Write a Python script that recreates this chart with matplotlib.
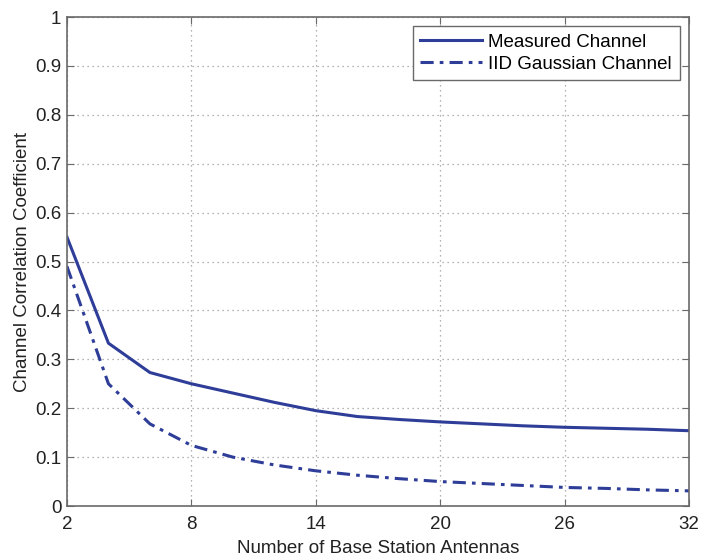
import matplotlib.pyplot as plt

plt.rcParams['font.family'] = ['Liberation Sans', 'DejaVu Sans']

# Number of base station antennas (even counts from 2 to 32)
antennas = [2, 4, 6, 8, 10, 12, 14, 16, 18, 20, 22, 24, 26, 28, 30, 32]

# Correlation coefficient for measured and IID Gaussian channels
measured = [0.55, 0.333, 0.273, 0.250, 0.231, 0.212, 0.195, 0.183,
            0.177, 0.172, 0.168, 0.164, 0.161, 0.159, 0.157, 0.154]
iid_gaussian = [0.49, 0.25, 0.168, 0.124, 0.100, 0.084, 0.072, 0.063,
                0.056, 0.050, 0.046, 0.042, 0.038, 0.036, 0.033, 0.031]

xticks = [2, 8, 14, 20, 26, 32]
yticks = [0, 0.1, 0.2, 0.3, 0.4, 0.5, 0.6, 0.7, 0.8, 0.9, 1]
ytick_labels = ['0', '0.1', '0.2', '0.3', '0.4', '0.5', '0.6', '0.7', '0.8', '0.9', '1']

line_color = '#2E3D98'
axis_color = '#6a6a6a'
text_color = '#222222'

fig = plt.figure(figsize=(7.02, 5.56), dpi=100)
ax = fig.add_axes([0.0954, 0.0899, 0.886, 0.8795])

ax.plot(antennas, measured, color=line_color, linewidth=2.2, label='Measured Channel')
ax.plot(antennas, iid_gaussian, color=line_color, linewidth=2.2,
        linestyle=(0, (4.3, 2.0, 1.2, 2.0)), label='IID Gaussian Channel')

ax.set_xlim(2, 32)
ax.set_ylim(0, 1)
ax.set_xticks(xticks)
ax.set_yticks(yticks)
ax.set_yticklabels(ytick_labels)

ax.grid(True, linestyle=(0, (1, 3)), color='#9a9a9a', linewidth=0.9)
ax.tick_params(direction='in', top=True, right=True, length=5,
               color=axis_color, labelsize=13.5, labelcolor=text_color)
ax.tick_params(axis='x', pad=7)
ax.tick_params(axis='y', pad=4)
for spine in ax.spines.values():
    spine.set_color(axis_color)
    spine.set_linewidth(1.2)

ax.set_xlabel('Number of Base Station Antennas', fontsize=13.5, color=text_color, labelpad=5)
ax.set_ylabel('Channel Correlation Coefficient', fontsize=13.5, color=text_color, labelpad=3)

leg = ax.legend(loc='upper right', fontsize=13.5, fancybox=False, framealpha=1,
                edgecolor=axis_color, borderaxespad=0.5, handlelength=3.3,
                handletextpad=0.35, borderpad=0.4, labelspacing=0.25)
leg.get_frame().set_linewidth(1.0)

fig.savefig('out.png', dpi=100)
plt.close(fig)
